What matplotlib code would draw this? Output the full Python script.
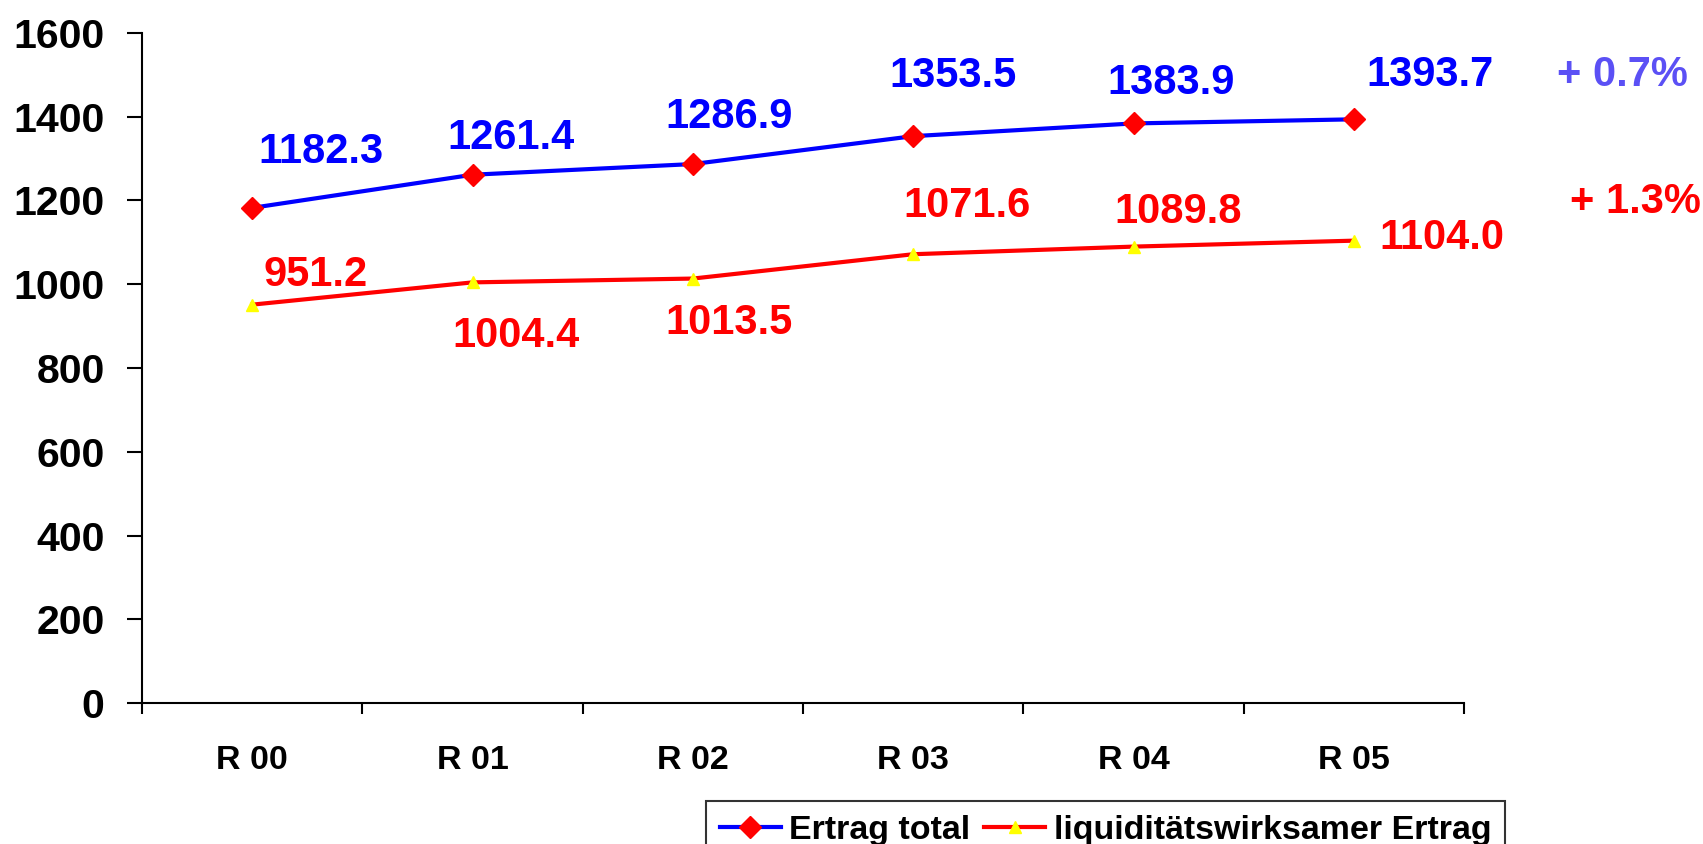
import matplotlib
matplotlib.use("Agg")
from matplotlib import pyplot as plt
import numpy as np

plt.rcParams['font.family'] = ['Liberation Sans', 'DejaVu Sans']
plt.rcParams['font.weight'] = 'bold'

# data
categories = ["R 00", "R 01", "R 02", "R 03", "R 04", "R 05"]
ertrag_total = [1182.3, 1261.4, 1286.9, 1353.5, 1383.9, 1393.7]
ertrag_liquid = [951.2, 1004.4, 1013.5, 1071.6, 1089.8, 1104.0]
labels_total = ["1182.3", "1261.4", "1286.9", "1353.5", "1383.9", "1393.7"]
labels_liquid = ["951.2", "1004.4", "1013.5", "1071.6", "1089.8", "1104.0"]
series_names = ["Ertrag total", "liquiditätswirksamer Ertrag"]
growth_labels = ["+ 0.7%", "+ 1.3%"]

# label offsets in pixels (dx, dy) from the point
off_total = [(69, 56), (38, 37), (36, 47), (40, 60), (38, 40), (76, 44)]
off_liquid = [(63, 30), (43, -54), (36, -44), (54, 48), (45, 35), (88, 3)]

BLUE = "#0000FF"
RED = "#FF0000"
YELLOW = "#FFFF00"
LILAC = "#5B50F5"

fig = plt.figure(figsize=(17.03, 8.44), dpi=100)
ax = fig.add_axes([0.0834, 0.167, 0.7763, 0.794])

x = np.arange(len(categories))
l1, = ax.plot(x, ertrag_total, color=BLUE, lw=3, marker='D', ms=11.5,
              mfc=RED, mec=RED, zorder=3)
l2, = ax.plot(x, ertrag_liquid, color=RED, lw=3, marker='^', ms=9,
              mfc=YELLOW, mec=YELLOW, zorder=3)

for xi, v, t, o in zip(x, ertrag_total, labels_total, off_total):
    ax.annotate(t, (xi, v), xytext=o, textcoords='offset pixels',
                ha='center', va='center', color=BLUE, fontsize=30,
                fontweight='bold', annotation_clip=False)
for xi, v, t, o in zip(x, ertrag_liquid, labels_liquid, off_liquid):
    ax.annotate(t, (xi, v), xytext=o, textcoords='offset pixels',
                ha='center', va='center', color=RED, fontsize=30,
                fontweight='bold', annotation_clip=False)

ax.annotate(growth_labels[0], (x[-1], ertrag_total[-1]), xytext=(269, 44),
            textcoords='offset pixels', ha='center', va='center',
            color=LILAC, fontsize=30, fontweight='bold', annotation_clip=False)
ax.annotate(growth_labels[1], (x[-1], ertrag_liquid[-1]), xytext=(282, 39),
            textcoords='offset pixels', ha='center', va='center',
            color=RED, fontsize=30, fontweight='bold', annotation_clip=False)

ax.set_xlim(-0.5, len(categories) - 0.5)
ax.set_ylim(0, 1600)
ax.set_yticks(np.arange(0, 1601, 200))
ax.set_xticks(x)
ax.set_xticklabels(categories)
ax.set_xticks(np.arange(-0.5, len(categories), 1.0), minor=True)

for s in ['top', 'right']:
    ax.spines[s].set_visible(False)
for s in ['left', 'bottom']:
    ax.spines[s].set_linewidth(1.5)
    ax.spines[s].set_color('black')

ax.tick_params(axis='y', direction='out', length=11, width=1.5,
               labelsize=29.5, pad=16)
ax.tick_params(axis='x', which='major', length=0, labelsize=24.5, pad=30)
ax.tick_params(axis='x', which='minor', direction='out', length=8, width=1.5)
for lab in ax.get_xticklabels() + ax.get_yticklabels():
    lab.set_fontweight('bold')

leg = fig.legend([l1, l2], series_names, loc='upper left',
                 bbox_to_anchor=(0.4146, 0.051), fontsize=24.5,
                 frameon=True, fancybox=False, edgecolor='black',
                 handlelength=1.8, handletextpad=0.25, columnspacing=0.4,
                 ncol=2, borderpad=0.4, borderaxespad=0)
leg.get_frame().set_linewidth(1.5)
for t in leg.get_texts():
    t.set_fontweight('bold')

fig.savefig("out.png", dpi=100)
